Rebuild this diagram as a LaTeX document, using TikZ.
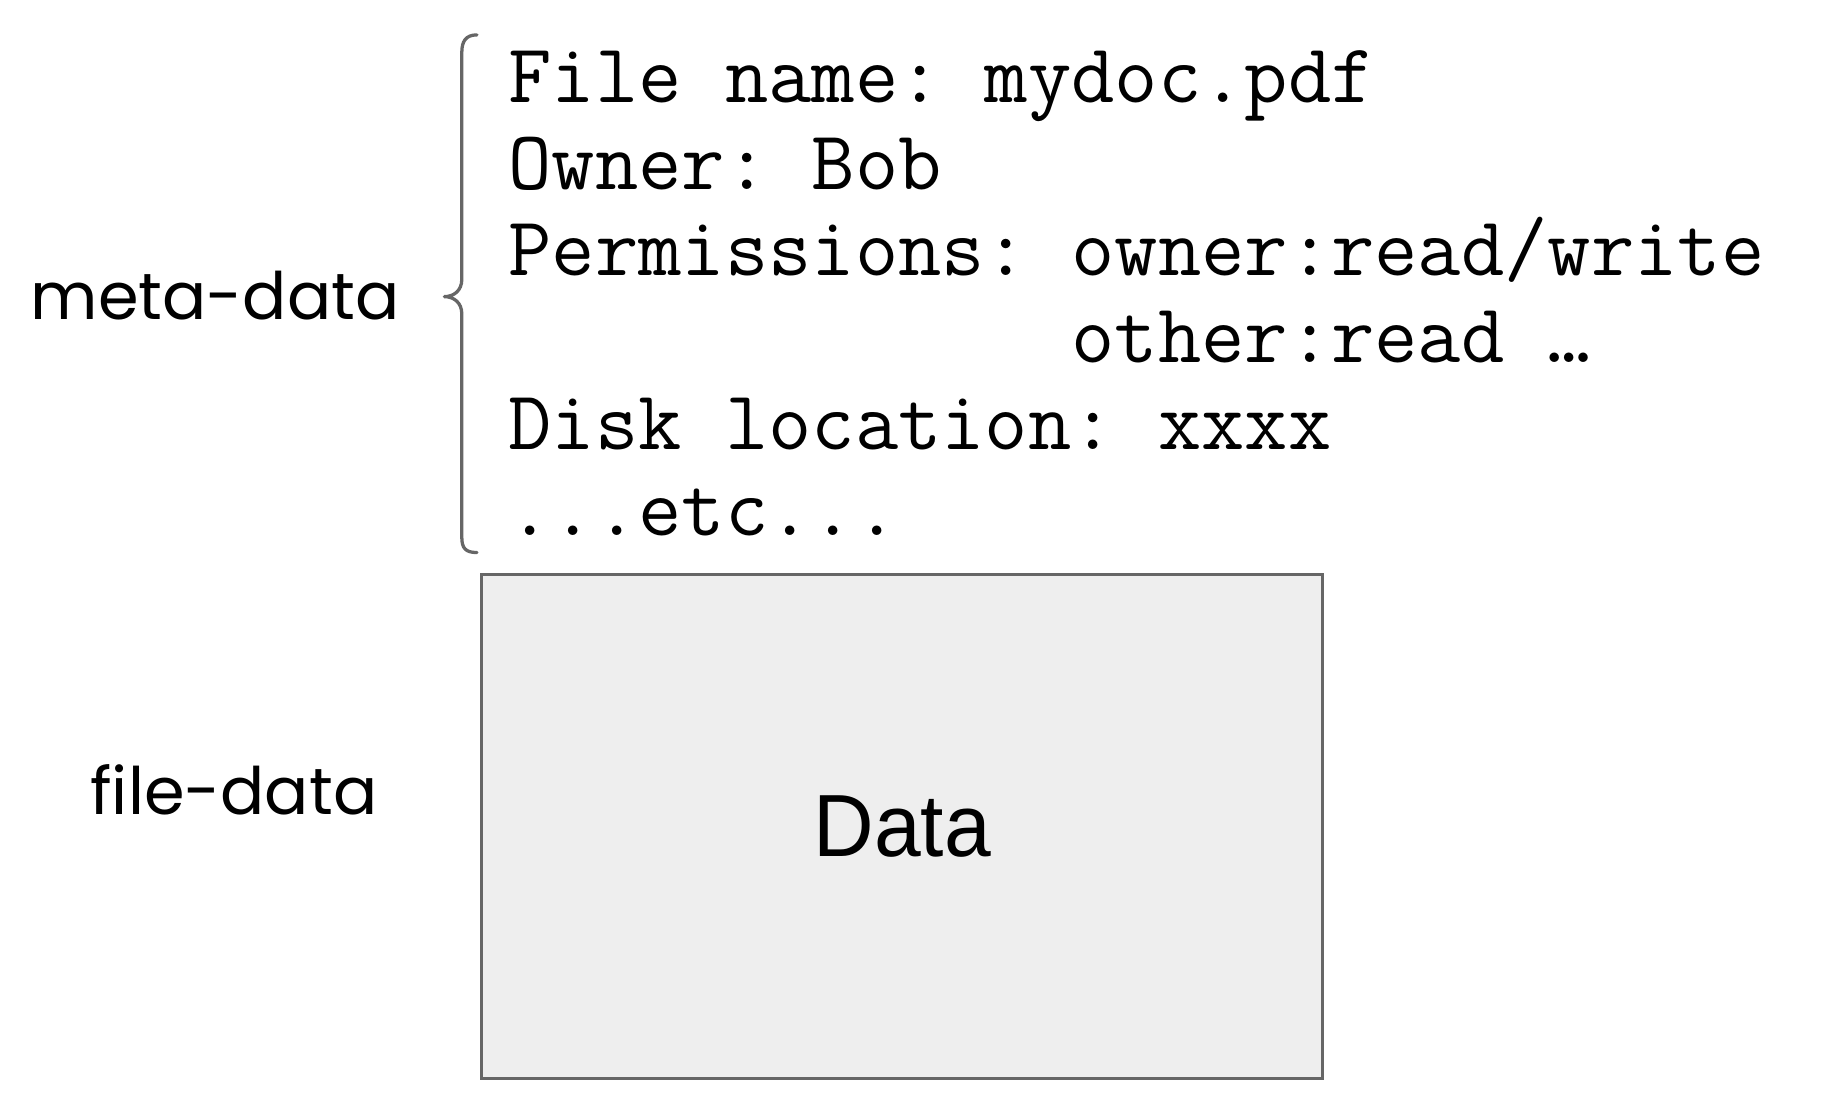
\documentclass[tikz,border=0pt]{standalone}
\usepackage{fontspec}
\setsansfont{Liberation Sans}
\newfontfamily\handfont{Poppins}
\usetikzlibrary{positioning}
\definecolor{cLine}{HTML}{666666}
\definecolor{cFill}{HTML}{EEEEEE}
\tikzset{
  metaline/.style={anchor=base west, inner sep=0pt, font=\ttfamily\frenchspacing\fontsize{51.4}{51.4}\selectfont},
  sidelbl/.style={anchor=base, inner sep=0pt, font=\handfont\fontsize{40}{40}\selectfont},
  databox/.style={draw=cLine, fill=cFill, line width=2pt, minimum width=18.075cm,
                  minimum height=10.825cm, font=\sffamily\fontsize{54}{54}\selectfont},
  brace/.style={draw=cLine, line width=2pt, line cap=round, line join=round},
}

\begin{document}
\begin{tikzpicture}[x=0.025cm, y=-0.025cm]
  \useasboundingbox (0,0) rectangle (1568,951);
  % meta-data lines
  \node[metaline] (name) at (437,88) {File name: mydoc.pdf};
  \node[metaline] (owner) at (437,162.5) {Owner: Bob};
  \node[metaline] (perm) at (437,237) {Permissions: owner:read/write};
  \node[metaline] (perm2) at (437,311.5) {\phantom{Permissions: }other:read …};
  \node[metaline] (disk) at (437,386) {Disk location: xxxx};
  \node[metaline] (etc) at (437,460.5) {...etc...};
  % brace
  \draw[brace] (410,30) .. controls (400,30) and (397,36) .. (397,45) -- (397,240)
    .. controls (397,250) and (390,255) .. (382,255)
    .. controls (390,255) and (397,260) .. (397,270) -- (397,462)
    .. controls (397,471) and (400,475) .. (410,475);
  % file data
  \node[databox] (data) at (775.5,710.5) {\scalebox{0.95}[1]{Data}};
  \node[sidelbl] (metalbl) at (185,275) {meta-data};
  \node[sidelbl] (filelbl) at (201,700) {file-data};
\end{tikzpicture}
\end{document}
